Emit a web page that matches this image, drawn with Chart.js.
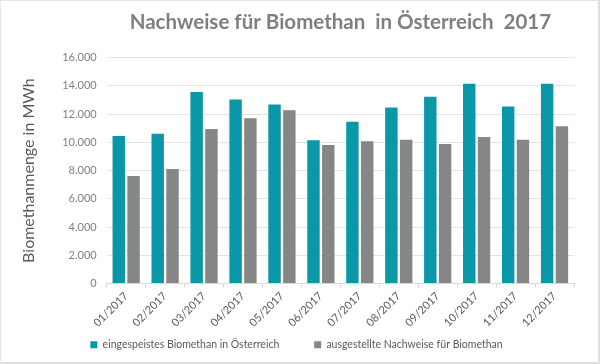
<!DOCTYPE html>
<html lang="de">
<head>
    <meta charset="UTF-8">
    <title>Nachweise für Biomethan in Österreich 2017</title>
    <script src="https://cdn.jsdelivr.net/npm/chart.js"></script>
    <style>
        body {
            margin: 0;
            padding: 0;
            background-color: #fff;
        }

        .container {
            width: 597px;
            height: 361px;
            border: 1px solid #e6e6e6;
            border-right: 2px solid #dedede;
            border-bottom: 2px solid #dedede;
        }
    </style>
</head>
<body>
    <div class="container">
        <canvas id="chart" width="597" height="361"></canvas>
    </div>

    <script>
        // Monate
        const months = ['01/2017', '02/2017', '03/2017', '04/2017', '05/2017', '06/2017',
                        '07/2017', '08/2017', '09/2017', '10/2017', '11/2017', '12/2017'];

        // eingespeistes Biomethan (MWh)
        const injected = [10450, 10600, 13560, 13040, 12680, 10150, 11450, 12470, 13230, 14150, 12540, 14150];

        // ausgestellte Nachweise (MWh)
        const certificates = [7610, 8110, 10950, 11710, 12280, 9810, 10080, 10190, 9890, 10380, 10190, 11140];

        const yTicks = [0, 2000, 4000, 6000, 8000, 10000, 12000, 14000, 16000];

        const fontFamily = 'Lato, "Open Sans", sans-serif';

        function formatNumber(v) {
            return v.toString().replace(/\B(?=(\d{3})+(?!\d))/g, '.');
        }

        const ctx = document.getElementById('chart').getContext('2d');
        new Chart(ctx, {
            type: 'bar',
            data: {
                labels: months,
                datasets: [{
                    label: 'eingespeistes Biomethan in Österreich',
                    data: injected,
                    backgroundColor: '#0a97a8',
                    categoryPercentage: 0.76,
                    barPercentage: 0.84
                }, {
                    label: 'ausgestellte Nachweise für Biomethan',
                    data: certificates,
                    backgroundColor: '#868686',
                    categoryPercentage: 0.76,
                    barPercentage: 0.84
                }]
            },
            options: {
                responsive: false,
                animation: false,
                layout: {
                    padding: { left: 18, right: 24, top: 7, bottom: 2 }
                },
                plugins: {
                    title: {
                        display: true,
                        fullSize: false,
                        text: 'Nachweise für Biomethan  in Österreich  2017',
                        color: '#7f7f7f',
                        font: { family: fontFamily, size: 20.5, weight: 'bold' },
                        padding: { top: 2, bottom: 23 }
                    },
                    legend: {
                        position: 'bottom',
                        labels: {
                            color: '#595959',
                            font: { family: fontFamily, size: 10.5 },
                            boxWidth: 7,
                            boxHeight: 7,
                            padding: 8,
                            generateLabels: (chart) => {
                                const items = Chart.defaults.plugins.legend.labels.generateLabels(chart);
                                items[0].text += '          ';
                                return items;
                            }
                        }
                    },
                    tooltip: { enabled: false }
                },
                scales: {
                    x: {
                        offset: true,
                        grid: {
                            display: true,
                            drawOnChartArea: false,
                            offset: true,
                            tickLength: 4,
                            color: '#d9d9d9'
                        },
                        border: { color: '#d9d9d9' },
                        ticks: {
                            color: '#595959',
                            font: { family: fontFamily, size: 11 },
                            minRotation: 45,
                            maxRotation: 45,
                            padding: 2
                        }
                    },
                    y: {
                        min: 0,
                        max: 16000,
                        afterBuildTicks: (axis) => {
                            axis.ticks = yTicks.map(v => ({ value: v }));
                        },
                        grid: {
                            color: '#e4e4e4',
                            drawTicks: false
                        },
                        border: { display: false },
                        ticks: {
                            color: '#7f7f7f',
                            font: { family: fontFamily, size: 11 },
                            padding: 10,
                            callback: (v) => formatNumber(v)
                        },
                        title: {
                            display: true,
                            text: 'Biomethanmenge in MWh',
                            color: '#595959',
                            font: { family: fontFamily, size: 16 },
                            padding: { top: 0, bottom: 14 }
                        }
                    }
                }
            }
        });
    </script>
</body>
</html>
